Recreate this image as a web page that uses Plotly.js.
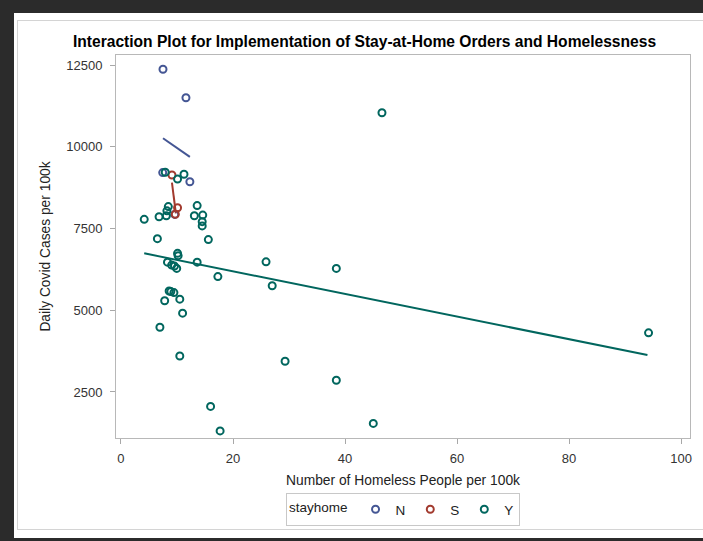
<!DOCTYPE html>
<html>
<head>
<meta charset="utf-8">
<script src="https://cdn.plot.ly/plotly-3.0.1.min.js"></script>
<style>
  html, body { margin: 0; padding: 0; background: #2b2b2b; width: 703px; height: 541px; overflow: hidden; }
  #panel { position: absolute; left: 14px; top: 13px; width: 689px; height: 525px; background: #ffffff; }
  #frame { position: absolute; left: 17px; top: 20px; width: 700px; height: 510px; border: 1px solid #d4d4d4; box-sizing: border-box; }
  #chart { position: absolute; left: 0; top: 0; width: 703px; height: 541px; }
</style>
</head>
<body>
<div id="panel"></div>
<div id="frame"></div>
<div id="chart"></div>
<script>
// Group N (stayhome = N)
const nX = [7.5, 11.6, 7.45, 12.3, 9.6];
const nY = [12370, 11500, 9210, 8930, 7930];
// Group S
const sX = [9.1, 10.1, 9.7];
const sY = [9135, 8135, 7935];
// Group Y
const yX = [7.9, 10.1, 11.25, 8.45, 8.2, 8.1, 6.8, 4.15, 13.6, 13.1, 14.6, 14.5, 14.5, 6.5, 15.6,
            10.1, 10.2, 8.3, 9.05, 9.55, 9.95, 13.6, 17.3, 25.9, 27.0, 38.45, 8.6, 8.9, 9.45, 7.8,
            10.5, 11.0, 6.95, 10.5, 29.3, 38.45, 16.0, 17.7, 46.6, 94.2, 45.05];
const yY = [9220, 9010, 9160, 8170, 8040, 7890, 7860, 7780, 8200, 7890, 7910, 7710, 7580, 7190, 7160,
            6740, 6670, 6470, 6380, 6350, 6280, 6470, 6030, 6480, 5750, 6280, 5590, 5570, 5540, 5290,
            5340, 4910, 4480, 3600, 3440, 2860, 2060, 1310, 11040, 4310, 1540];
// Fitted lines (endpoints)
const nFitX = [7.5, 12.3];
const nFitY = [10260, 9690];
const sFitX = [9.1, 9.8];
const sFitY = [8900, 7965];
const yFitX = [4.15, 94.0];
const yFitY = [6740, 3630];

const groups = ['N', 'S', 'Y'];
const colors = ['#445694', '#A23A2E', '#01665E'];
const xTicks = [0, 20, 40, 60, 80, 100];
const yTicks = [2500, 5000, 7500, 10000, 12500];

const pts = [[nX, nY], [sX, sY], [yX, yY]];
const fits = [[nFitX, nFitY], [sFitX, sFitY], [yFitX, yFitY]];

const traces = [];
for (let i = 0; i < 3; i++) {
  traces.push({
    x: fits[i][0], y: fits[i][1], type: 'scatter', mode: 'lines',
    line: { color: colors[i], width: 2 }, showlegend: false, hoverinfo: 'skip'
  });
}
for (let i = 0; i < 3; i++) {
  traces.push({
    x: pts[i][0], y: pts[i][1], type: 'scatter', mode: 'markers', name: groups[i],
    marker: { symbol: 'circle-open', size: 7, color: colors[i], line: { width: 2, color: colors[i] } }
  });
}

const font = '"Liberation Sans", Arial, sans-serif';
const layout = {
  width: 703, height: 541,
  margin: { l: 116, r: 13, t: 55, b: 103 },
  paper_bgcolor: 'rgba(0,0,0,0)',
  plot_bgcolor: '#ffffff',
  font: { family: font, color: '#333333' },
  title: {
    text: '<b>Interaction Plot for Implementation of Stay-at-Home Orders and Homelessness</b>',
    font: { family: font, size: 15.6, color: '#000000' },
    xref: 'container', x: 0.5185, xanchor: 'center',
    yref: 'container', y: 0.924, yanchor: 'middle'
  },
  xaxis: {
    range: [-0.89, 101.6], tickvals: xTicks, ticktext: xTicks.map(String),
    ticks: 'outside', ticklen: 5, tickcolor: '#a8a8a8', tickwidth: 1,
    showline: true, mirror: true, linecolor: '#b8b8b8', linewidth: 1,
    showgrid: false, zeroline: false, ticklabelstandoff: 3,
    tickfont: { family: font, size: 13, color: '#333333' },
    title: { text: 'Number of Homeless People per 100k', font: { family: font, size: 13.8, color: '#222222' }, standoff: 10 }
  },
  yaxis: {
    range: [1093, 12806], tickvals: yTicks, ticktext: yTicks.map(String),
    ticks: 'outside', ticklen: 5, tickcolor: '#a8a8a8', tickwidth: 1,
    showline: true, mirror: true, linecolor: '#b8b8b8', linewidth: 1,
    showgrid: false, zeroline: false, ticklabelstandoff: 5,
    tickfont: { family: font, size: 13, color: '#333333' },
    title: { text: 'Daily Covid Cases per 100k', font: { family: font, size: 13.8, color: '#222222' }, standoff: 12 }
  },
  legend: {
    orientation: 'h', xref: 'paper', x: 0.5, xanchor: 'center',
    yref: 'container', y: 0.0887, yanchor: 'top',
    bordercolor: '#c8c8c8', borderwidth: 1, bgcolor: '#ffffff',
    font: { family: font, size: 13.5, color: '#222222' },
    title: { text: 'stayhome', side: 'left', font: { family: font, size: 13.5, color: '#222222' } },
    itemwidth: 30, tracegroupgap: 0
  },
  showlegend: true
};

Plotly.newPlot('chart', traces, layout, { displayModeBar: false, staticPlot: true });
</script>
</body>
</html>
